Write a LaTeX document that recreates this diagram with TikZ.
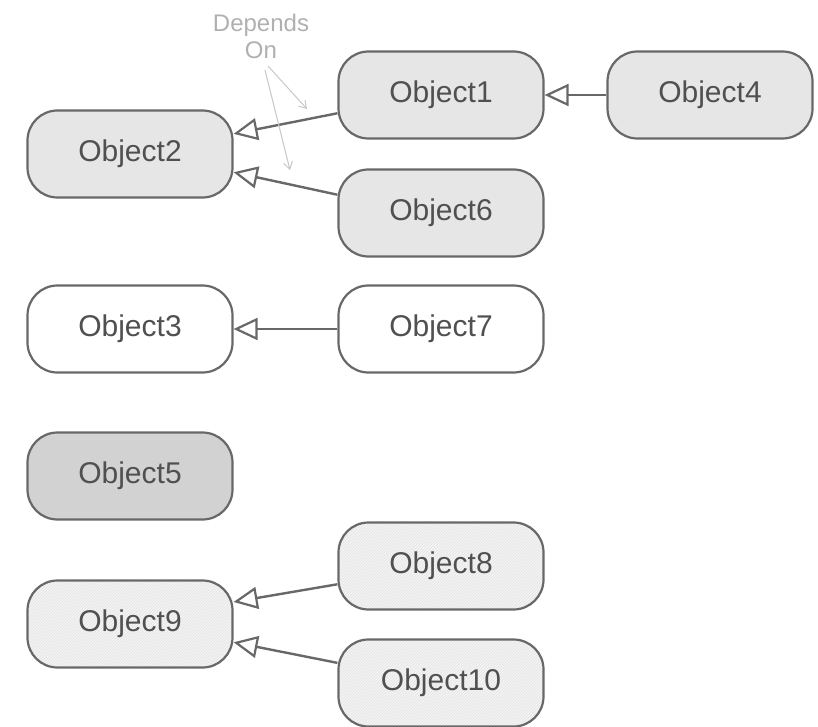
\documentclass[tikz,border=0pt]{standalone}
\usepackage{fontspec}
\setmainfont{Liberation Sans}
\usetikzlibrary{arrows.meta,patterns}
\definecolor{bordc}{HTML}{686868}
\definecolor{txtc}{HTML}{505050}
\definecolor{fillA}{HTML}{E6E6E6}
\definecolor{fillB}{HTML}{D2D2D2}
\definecolor{fillC}{HTML}{F4F4F4}
\definecolor{hatchc}{HTML}{E2E2E2}
\definecolor{notec}{HTML}{B0B0B0}
\begin{document}
\begin{tikzpicture}[x=1pt,y=-1pt,
  objbox/.style={draw=bordc, line width=2.2pt, rounded corners=30pt,
    minimum width=205pt, minimum height=87pt, text=txtc,
    font=\fontsize{30}{34}\selectfont},
  greybox/.style={objbox, fill=fillA},
  whitebox/.style={objbox, fill=white},
  darkbox/.style={objbox, fill=fillB},
  hatchbox/.style={objbox, preaction={fill=fillC}, pattern=north east lines, pattern color=hatchc},
  dep/.style={draw=bordc, line width=2.4pt, -{Triangle[open, length=24pt, width=22pt, line width=2.2pt]}},
  note/.style={text=notec, font=\fontsize{24}{27}\selectfont, align=center},
  notearrow/.style={draw=notec!70, line width=1pt, -{Straight Barb[length=7pt, width=9pt]}}
]
\useasboundingbox (0,0) rectangle (818,727);
\node[greybox] (o1) at (441,95) {Object1};
\node[greybox] (o4) at (710,95) {Object4};
\node[greybox] (o2) at (130,154) {Object2};
\node[greybox] (o6) at (441,213) {Object6};
\node[whitebox] (o3) at (130,329) {Object3};
\node[whitebox] (o7) at (441,329) {Object7};
\node[darkbox] (o5) at (130,476) {Object5};
\node[hatchbox] (o8) at (441,566) {Object8};
\node[hatchbox] (o9) at (130,624) {Object9};
\node[hatchbox] (o10) at (441,683) {Object10};

\draw[dep] (o4.west) -- (o1.east);
\draw[dep] (o1.190) -- (o2.11);
\draw[dep] (o6.170) -- (o2.-10);
\draw[dep] (o7.west) -- (o3.east);
\draw[dep] (o8.190) -- (o9.12);
\draw[dep] (o10.169) -- (o9.-10);

\node[note] (dn) at (261,36) {Depends\\On};
\coordinate (n1) at (307,109);
\coordinate (n2) at (290,170);
\draw[notearrow] (268,66) -- (n1);
\draw[notearrow] (265,70) -- (n2);
\end{tikzpicture}
\end{document}
